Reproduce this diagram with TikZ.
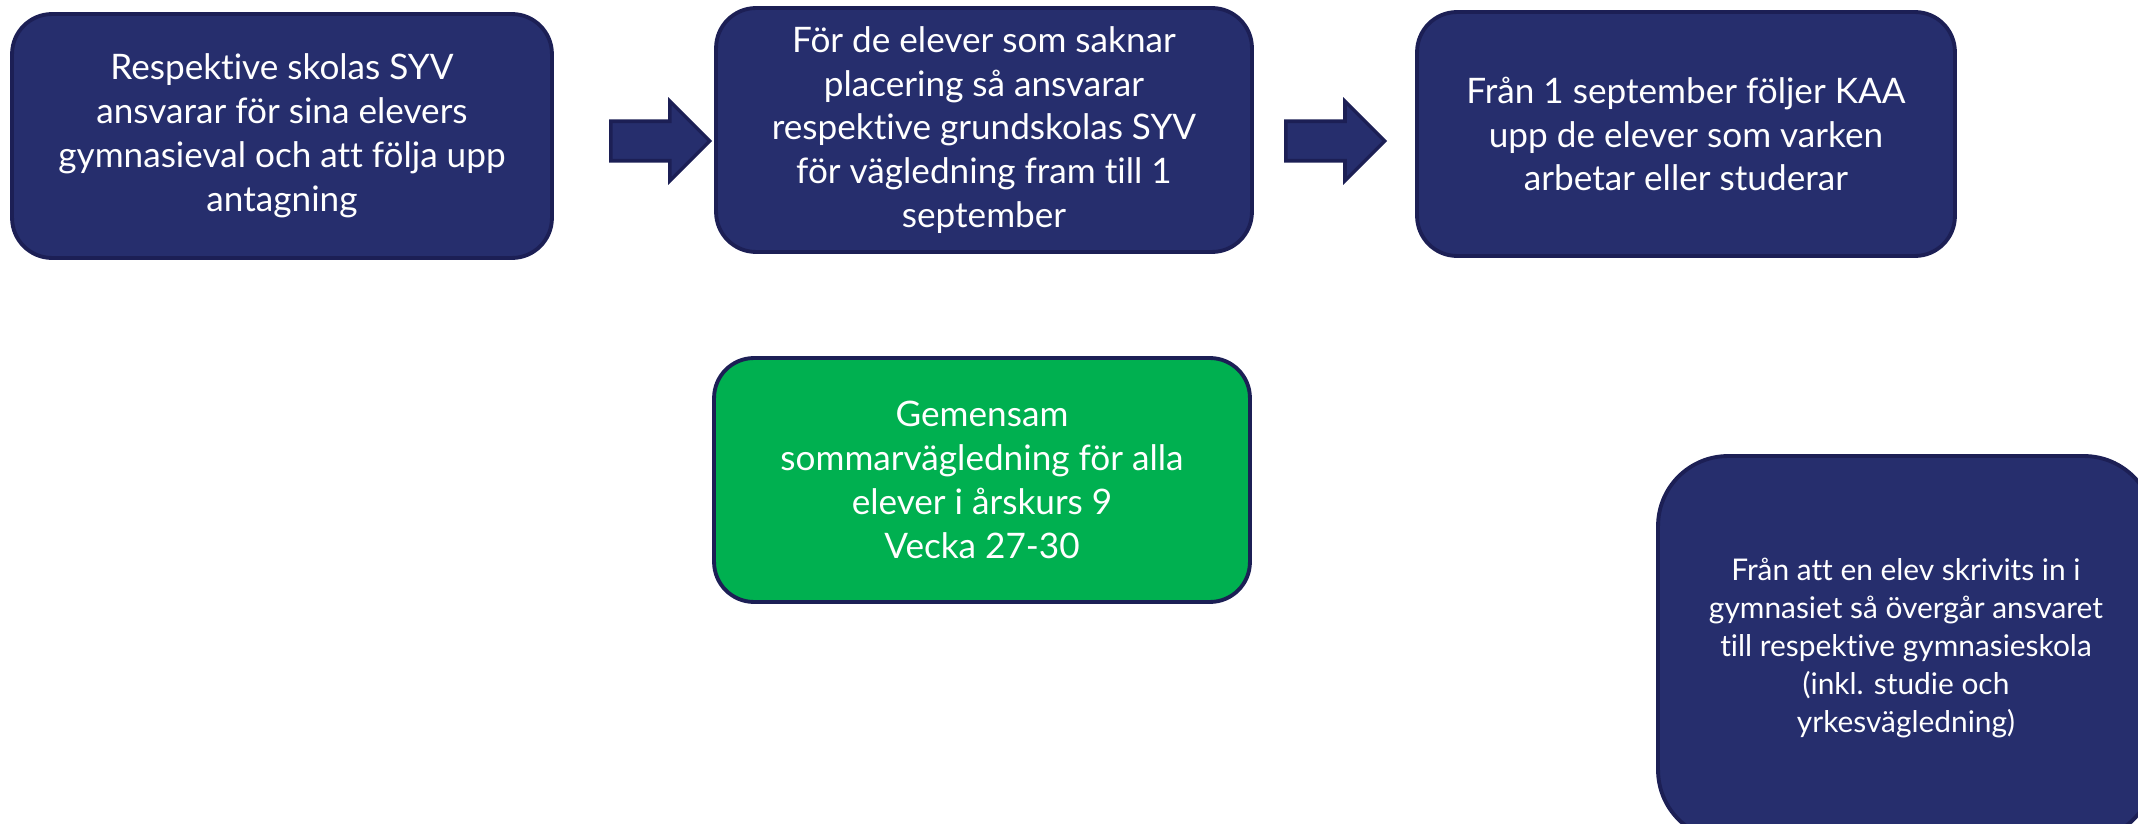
\documentclass[tikz,border=0pt]{standalone}
\usepackage{fontspec}
\setmainfont{Lato}[Ligatures=NoCommon]
\usetikzlibrary{shapes.arrows}
\definecolor{navyfill}{HTML}{262E6D}
\definecolor{navyline}{HTML}{1C1F55}
\definecolor{greenfill}{HTML}{00B050}

\begin{document}
\begin{tikzpicture}[x=0.02cm, y=-0.02cm,
        box/.style={draw=navyline, line width=2.2pt, rounded corners=0.8cm, text=white, align=center, inner sep=0pt, font=\fontsize{20}{25}\selectfont},
        navybox/.style={box, fill=navyfill},
        greenbox/.style={box, fill=greenfill},
        blockarrow/.style={single arrow, anchor=tail, draw=navyline, fill=navyfill, line width=2pt, minimum height=1.98cm, single arrow head extend=0.4cm, single arrow tip angle=90, inner sep=0pt}]
        \useasboundingbox (0,0) rectangle (2138,824);
        \clip (0,0) rectangle (2138,824);
        % top row
        \node[navybox, minimum width=10.8cm, minimum height=4.88cm] (skola) at (282,136) {Respektive skolas SYV\\ansvarar för sina elevers\\gymnasieval och att följa upp\\antagning};
        \node[blockarrow] (pilA) at (609,141) {\rule{0pt}{0.72cm}};
        \node[navybox, minimum width=10.72cm, minimum height=4.88cm] (grundskola) at (984,130) {För de elever som saknar\\placering så ansvarar\\respektive grundskolas SYV\\för vägledning fram till 1\\september};
        \node[blockarrow] (pilB) at (1284,141) {\rule{0pt}{0.72cm}};
        \node[navybox, minimum width=10.76cm, minimum height=4.88cm] (kaa) at (1686,134) {Från 1 september följer KAA\\upp de elever som varken\\arbetar eller studerar};
        % sommar
        \node[greenbox, minimum width=10.72cm, minimum height=4.88cm] (sommar) at (982,480) {Gemensam\\sommarvägledning för alla\\elever i årskurs 9\\Vecka 27-30};
        % gymnasiet
        \node[navybox, rounded corners=1.4cm, minimum width=9.92cm, minimum height=7.68cm, font=\fontsize{17}{21.5}\selectfont] (gymnasium) at (1906,648) {Från att en elev skrivits in i\\gymnasiet så övergår ansvaret\\till respektive gymnasieskola\\(inkl. studie och\\yrkesvägledning)};
    \end{tikzpicture}
\end{document}
